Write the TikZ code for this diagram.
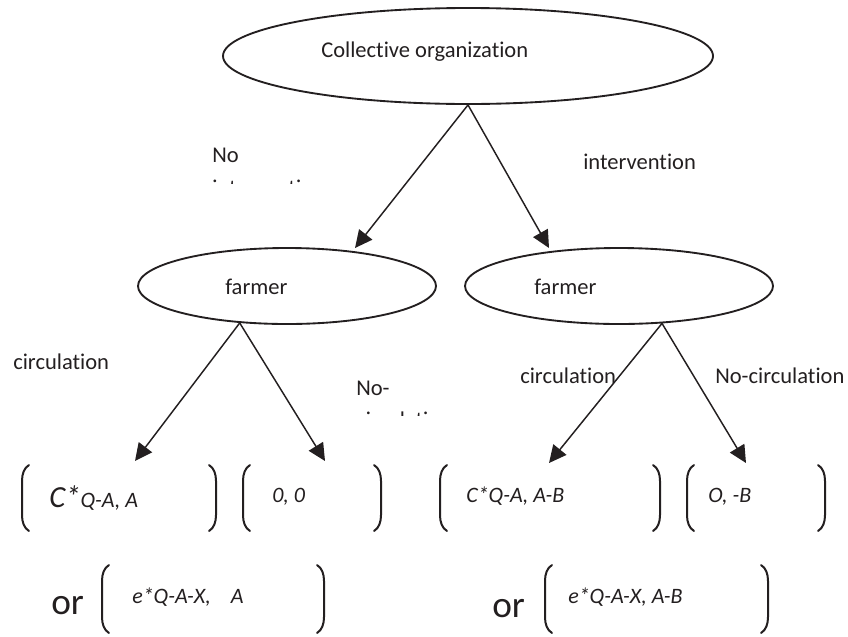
\documentclass[tikz,border=0pt]{standalone}
\usepackage{fontspec}
\setmainfont{Carlito}[Ligatures=NoCommon]
\usetikzlibrary{shapes.geometric,arrows.meta}
\definecolor{ink}{HTML}{231F20}

\tikzset{
  oval/.style={ellipse, draw=ink, line width=1.4pt, inner sep=0pt},
  lbl/.style={inner sep=0pt, anchor=base west, text=ink, font=\fontsize{16.9}{20}\selectfont},
  pay/.style={lbl, font=\fontsize{16.5}{20}\selectfont\itshape},
  ortext/.style={lbl, font=\fontsize{28}{32}\selectfont},
  branch/.style={draw=ink, line width=1.1pt, -{Triangle[length=13pt,width=12.5pt]}},
  paren/.style={draw=ink, line width=1.5pt, line cap=round},
}

% big round brackets round a pay-off: left x, right x, top y, bottom y
\newcommand{\paypair}[4]{%
  \draw[paren] (#1+7,#3) .. controls (#1+2,#3+3) and (#1,#3+9) .. (#1,#3+16) -- (#1,#4-16) .. controls (#1,#4-9) and (#1+2,#4-3) .. (#1+7,#4);
  \draw[paren] (#2-7,#3) .. controls (#2-2,#3+3) and (#2,#3+9) .. (#2,#3+16) -- (#2,#4-16) .. controls (#2,#4-9) and (#2-2,#4-3) .. (#2-7,#4);
}

\begin{document}
\begin{tikzpicture}[x=0.75pt,y=0.75pt,yscale=-1]
\useasboundingbox (0,0) rectangle (848,636);

%Shape: Ellipse
\node [oval, minimum width=367.5pt, minimum height=72pt] (org) at (468,56) {};
%Shape: Ellipse
\node [oval, minimum width=223.5pt, minimum height=57pt] (farmerL) at (287,286) {};
%Shape: Ellipse
\node [oval, minimum width=231pt, minimum height=57pt] (farmerR) at (619,286) {};

% arrow ends
\coordinate (tipNo) at (355,248);
\coordinate (tipInt) at (549,248);
\coordinate (tipLC) at (135,461);
\coordinate (tipLN) at (325,461);
\coordinate (tipRC) at (549,463);
\coordinate (tipRN) at (746,463);

%Straight Lines
\draw [branch] (org.south) -- (tipNo);
\draw [branch] (org.south) -- (tipInt);
\draw [branch] (farmerL.-142) -- (tipLC);
\draw [branch] (farmerL.-142) -- (tipLN);
\draw [branch] (farmerR.-41) -- (tipRC);
\draw [branch] (farmerR.-41) -- (tipRN);

% Text Node
\node [lbl] (orgtext) at (321,57) {Collective organization};
% Text Node
\node [lbl] (farmerLtext) at (225,294) {farmer};
% Text Node
\node [lbl] (farmerRtext) at (534,294) {farmer};

% Text Node
\node [lbl] (noint) at (212,162) {No};
\begin{scope}
\clip (200,170) rectangle (340,183.5);
\node [lbl] (nointcut) at (212,195) {intervention};
\end{scope}
% Text Node
\node [lbl] (intv) at (583,169) {intervention};

% Text Node
\node [lbl] (circL) at (13,369) {circulation};
% Text Node
\node [lbl] (nocircL) at (356,395) {No-};
\begin{scope}
\clip (340,402) rectangle (460,415.5);
\node [lbl] (nocircLcut) at (356,427) {circulation};
\end{scope}
% Text Node
\node [lbl] (circR) at (520,383) {circulation};
% Text Node
\node [lbl] (nocircR) at (715,383) {No-circulation};

% pay-offs, first row
\paypair{22}{216}{465}{531}
\paypair{243}{381}{465}{531}
\paypair{440}{660}{465}{531}
\paypair{687}{825}{465}{531}
% Text Node
\node [pay] (payLC) at (49,507) {{\fontsize{23}{24}\selectfont C*}Q-A, A};
% Text Node
\node [pay] (payLN) at (272,502) {0, 0};
% Text Node
\node [pay] (payRC) at (466,502) {C*Q-A, A-B};
% Text Node
\node [pay] (payRN) at (708,502) {O, -B};

% pay-offs, second row
\paypair{102}{324}{565}{633}
\paypair{545}{768}{565}{633}
% Text Node
\node [ortext] (orL) at (51,614) {or};
% Text Node
\node [pay] (payLE) at (132,603) {e*Q-A-X,\hspace{15pt}A};
% Text Node
\node [ortext] (orR) at (492,617) {or};
% Text Node
\node [pay] (payRE) at (568,603) {e*Q-A-X, A-B};

\end{tikzpicture}
\end{document}
